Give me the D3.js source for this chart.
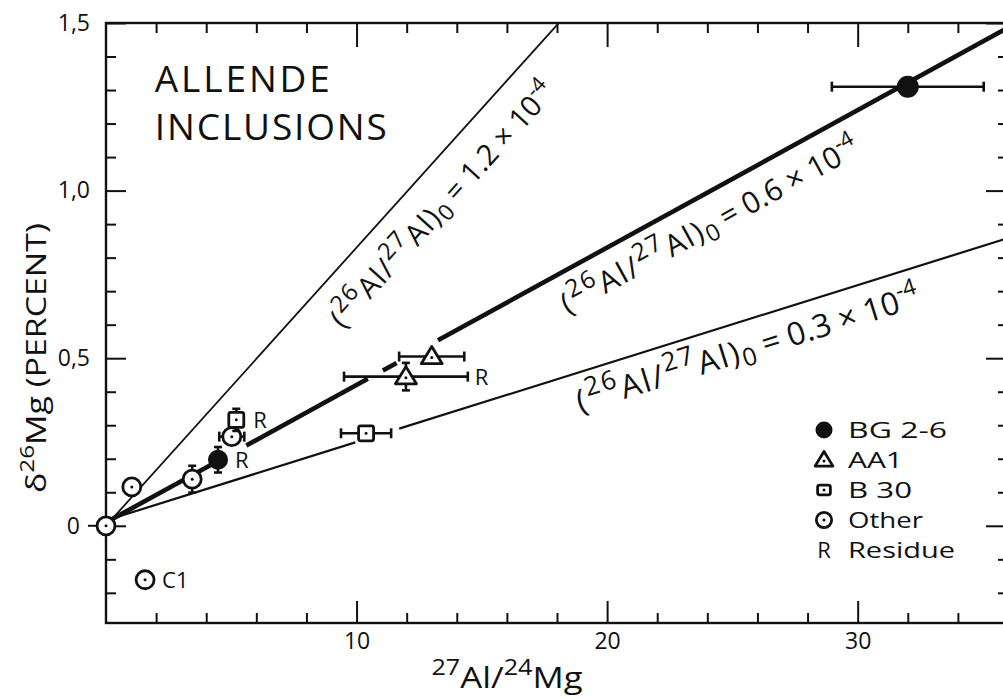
<!DOCTYPE html>
<html>
<head>
<meta charset="utf-8">
<title>Allende inclusions</title>
<script src="https://cdn.jsdelivr.net/npm/d3@7"></script>
<style>
  body { margin: 0; background: #fff; }
  svg text { font-family: 'Open Sans', 'DejaVu Sans', sans-serif; fill: #111; }
  .tick line { stroke: #111; stroke-width: 2; }
  .domain { display: none; }
</style>
</head>
<body>
<svg id="chart" width="1003" height="699"></svg>
<script>
// ---- data ----
const xMajor = [10, 20, 30];
const xTickLabels = ["10", "20", "30"];
const xMinor = [2, 4, 6, 8, 12, 14, 16, 18, 22, 24, 26, 28, 32, 34];
const yMajor = [0, 0.5, 1.0, 1.5];
const yTickLabels = ["0", "0,5", "1,0", "1,5"];
const yMinor = [-0.2, -0.1, 0.1, 0.2, 0.3, 0.4, 0.6, 0.7, 0.8, 0.9, 1.1, 1.2, 1.3, 1.4];

// BG 2-6 (filled), AA1 (triangle), B30 (square), Other (dotted circle)
const bgPoints    = [{x: 4.47, y: 0.197, dx: 0, dy: 0.038, residue: true},
                     {x: 32.0, y: 1.31, dx: 3.03, dy: 0}];
const aa1Points   = [{x: 13.0, y: 0.505, dx: 1.3, dy: 0},
                     {x: 11.97, y: 0.445, dx: 2.47, dy: 0.041, residue: true}];
const b30Points   = [{x: 10.38, y: 0.276, dx: 1.0, dy: 0},
                     {x: 5.2, y: 0.316, dx: 0, dy: 0.033, residue: true}];
const otherPoints = [{x: 0, y: 0, dx: 0, dy: 0},
                     {x: 1.03, y: 0.116, dx: 0, dy: 0},
                     {x: 3.44, y: 0.139, dx: 0, dy: 0.04},
                     {x: 5.02, y: 0.266, dx: 0.5, dy: 0},
                     {x: 1.56, y: -0.161, dx: 0, dy: 0, name: "C1"}];

// isochrons (26Al/27Al)0
const ratioLabels = ["1.2", "0.6", "0.3"];
const lineSlopes = [0.083, 0.041, 0.0234];
const lineIntercepts = [0, 0.01, 0.016];
const lineSegments = [
  [[0, 18.2]],
  [[0, 4.6], [5.6, 10.45], [11.05, 11.6], [13.25, 36]],
  [[0, 9.95], [11.7, 36]]
];

const legendNames = ["BG 2-6", "AA1", "B 30", "Other", "Residue"];
const legendKinds = ["bg", "aa1", "b30", "other", "res"];

// ---- layout ----
const lineWidths = [1.8, 4.6, 2.2];
const labelAt = [12.9, 24.3, 26.2];      // where the "=" sits along each line (x value)
const labelOffset = [45, 40, 39];        // baseline distance below the line, px
const labelSize = [29, 30, 32];
const labelSpacing = [1.5, 2, 2.2];
const legendWidths = [99, 55, 64, 75, 107];
const ink = "#111";

const svg = d3.select("#chart");
const x = d3.scaleLinear().domain([0, 36]).range([106, 1008]);
const y = d3.scaleLinear().domain([-0.29, 1.5]).range([623, 23]);
const [x0, x1] = x.range(), [y0, y1] = y.range();

svg.append("defs").append("clipPath").attr("id", "plot")
  .append("rect").attr("x", x0).attr("y", y1).attr("width", x1 - x0).attr("height", y0 - y1);

// frame
svg.append("rect").attr("x", x0).attr("y", y1).attr("width", x1 - x0).attr("height", y0 - y1)
  .attr("fill", "none").attr("stroke", ink).attr("stroke-width", 2.4);

// ticks on all four sides, pointing inward
function ticks(axis, tr) {
  return svg.append("g").attr("transform", tr).call(axis);
}
ticks(d3.axisBottom(x).tickValues(xMinor).tickSize(-10).tickFormat(""), `translate(0,${y0})`);
ticks(d3.axisTop(x).tickValues(xMinor).tickSize(-10).tickFormat(""), `translate(0,${y1})`);
ticks(d3.axisTop(x).tickValues(xMajor).tickSize(-24).tickFormat(""), `translate(0,${y1})`);
const xb = ticks(d3.axisBottom(x).tickValues(xMajor).tickSize(-22).tickPadding(10)
  .tickFormat((d, i) => xTickLabels[i]), `translate(0,${y0})`);
xb.selectAll("text").attr("font-size", 23).attr("fill", ink);

ticks(d3.axisLeft(y).tickValues(yMinor).tickSize(-10).tickFormat(""), `translate(${x0},0)`);
ticks(d3.axisRight(y).tickValues(yMinor).tickSize(-10).tickFormat(""), `translate(${x1},0)`);
ticks(d3.axisRight(y).tickValues(yMajor).tickSize(-22).tickFormat(""), `translate(${x1},0)`);
const yl = ticks(d3.axisLeft(y).tickValues(yMajor).tickSize(-20).tickPadding(16)
  .tickFormat((d, i) => yTickLabels[i]), `translate(${x0},0)`);
yl.selectAll("text").attr("font-size", 23).attr("fill", ink)
  .attr("x", d => d === 0 ? -26 : -16);
// short outside tick at zero
svg.append("line").attr("x1", x0 - 18).attr("x2", x0).attr("y1", y(0)).attr("y2", y(0))
  .attr("stroke", ink).attr("stroke-width", 2);

// axis titles
const xt = svg.append("text").attr("x", 507).attr("y", 688).attr("text-anchor", "middle")
  .attr("font-size", 29).attr("textLength", 151).attr("lengthAdjust", "spacingAndGlyphs");
xt.append("tspan").attr("font-size", 21).attr("dy", -13).text("27");
xt.append("tspan").attr("dy", 13).text("Al/");
xt.append("tspan").attr("font-size", 21).attr("dy", -13).text("24");
xt.append("tspan").attr("dy", 13).text("Mg");

const yt = svg.append("text").attr("transform", "translate(46,358) rotate(-90)")
  .attr("text-anchor", "middle").attr("font-size", 28)
  .attr("textLength", 270).attr("lengthAdjust", "spacingAndGlyphs");
yt.append("tspan").text("δ");
yt.append("tspan").attr("font-size", 20).attr("dy", -12).text("26");
yt.append("tspan").attr("dy", 12).text("Mg (PERCENT)");

// title
svg.append("text").attr("x", x(1.95)).attr("y", 92).attr("font-size", 37)
  .attr("textLength", 175).text("ALLENDE");
svg.append("text").attr("x", x(1.95)).attr("y", 140).attr("font-size", 37)
  .attr("textLength", 232).text("INCLUSIONS");

// isochron lines
const plot = svg.append("g").attr("clip-path", "url(#plot)");
lineSlopes.forEach((m, i) => {
  const b = lineIntercepts[i];
  lineSegments[i].forEach(([a, c]) => {
    plot.append("line")
      .attr("x1", x(a)).attr("y1", y(b + m * a))
      .attr("x2", x(c)).attr("y2", y(b + m * c))
      .attr("stroke", ink).attr("stroke-width", lineWidths[i]);
  });
});

// line labels, placed so the "=" sits at labelAt along each line
lineSlopes.forEach((m, i) => {
  const b = lineIntercepts[i];
  const ang = Math.atan2(y(b + m * 10) - y(b), x(10) - x(0)) * 180 / Math.PI;
  const xa = labelAt[i];
  const fs = labelSize[i], ss = fs * 0.82, up = fs * 0.42, ls = labelSpacing[i];
  const g = svg.append("g")
    .attr("transform", `translate(${x(xa)},${y(b + m * xa)}) rotate(${ang})`);
  const t = g.append("text").attr("font-size", fs).attr("y", labelOffset[i]);
  t.append("tspan").attr("letter-spacing", ls).text("(");
  t.append("tspan").attr("letter-spacing", ls).attr("font-size", ss).attr("dy", -up).text("26");
  t.append("tspan").attr("letter-spacing", ls).attr("dy", up).text("Al/");
  t.append("tspan").attr("letter-spacing", ls).attr("font-size", ss).attr("dy", -up).text("27");
  t.append("tspan").attr("letter-spacing", ls).attr("dy", up).text("Al)");
  t.append("tspan").attr("font-size", fs * 0.78).attr("dy", 6).text("0");
  t.append("tspan").attr("dy", -6).text(" = " + ratioLabels[i] + " × 10");
  t.append("tspan").attr("font-size", fs * 0.72).attr("dy", -up).text("-4");
  const s = t.text();
  const k = s.indexOf("=");
  const node = t.node();
  const pre = node.getSubStringLength(0, k);
  const eq = node.getSubStringLength(k, 1);
  t.attr("x", -pre - eq / 2);
});

// markers
function drawMarker(g, kind, cx, cy, s) {
  s = s || 1;
  if (kind === "bg") {
    g.append("circle").attr("cx", cx).attr("cy", cy).attr("r", 10 * s).attr("fill", ink);
  } else if (kind === "aa1") {
    const h = 10 * s;
    g.append("path")
      .attr("d", `M${cx},${cy - h}L${cx + h * 1.05},${cy + h * 0.72}L${cx - h * 1.05},${cy + h * 0.72}Z`)
      .attr("fill", "#fff").attr("stroke", ink).attr("stroke-width", 2.8).attr("stroke-linejoin", "round");
    g.append("circle").attr("cx", cx).attr("cy", cy + 1).attr("r", 1.5).attr("fill", ink);
  } else if (kind === "b30") {
    const h = 7.5 * s;
    g.append("rect").attr("x", cx - h).attr("y", cy - h * (s < 1 ? 0.75 : 1))
      .attr("width", 2 * h).attr("height", 2 * h * (s < 1 ? 0.75 : 1)).attr("rx", 2)
      .attr("fill", "#fff").attr("stroke", ink).attr("stroke-width", 2.8);
    g.append("circle").attr("cx", cx).attr("cy", cy).attr("r", 1.5).attr("fill", ink);
  } else if (kind === "other") {
    g.append("circle").attr("cx", cx).attr("cy", cy).attr("r", 9 * s)
      .attr("fill", "#fff").attr("stroke", ink).attr("stroke-width", 2.8);
    g.append("circle").attr("cx", cx).attr("cy", cy).attr("r", 1.5).attr("fill", ink);
  } else if (kind === "res") {
    g.append("text").attr("x", cx).attr("y", cy + 8).attr("text-anchor", "middle")
      .attr("font-size", 22).text("R");
  }
}

const pts = svg.append("g");
function drawSeries(data, kind) {
  data.forEach(d => {
    const g = pts.append("g");
    const cx = x(d.x), cy = y(d.y);
    if (d.dx) {
      g.append("line").attr("x1", x(d.x - d.dx)).attr("x2", x(d.x + d.dx)).attr("y1", cy).attr("y2", cy)
        .attr("stroke", ink).attr("stroke-width", 2.6);
      [d.x - d.dx, d.x + d.dx].forEach(v => g.append("line").attr("x1", x(v)).attr("x2", x(v))
        .attr("y1", cy - 5).attr("y2", cy + 5).attr("stroke", ink).attr("stroke-width", 2.6));
    }
    if (d.dy) {
      g.append("line").attr("x1", cx).attr("x2", cx).attr("y1", y(d.y - d.dy)).attr("y2", y(d.y + d.dy))
        .attr("stroke", ink).attr("stroke-width", 2.6);
      [d.y - d.dy, d.y + d.dy].forEach(v => g.append("line").attr("x1", cx - 4).attr("x2", cx + 4)
        .attr("y1", y(v)).attr("y2", y(v)).attr("stroke", ink).attr("stroke-width", 2.6));
    }
    drawMarker(g, kind, cx, cy, kind === "bg" && d.dx ? 1.1 : 1);
    if (d.residue) {
      const rx = Math.max(d.dx ? x(d.x + d.dx) : 0, cx + 10) + 7;
      g.append("text").attr("x", rx).attr("y", cy + 8).attr("font-size", 22).text("R");
    }
    if (d.name) {
      g.append("text").attr("x", cx + 17).attr("y", cy + 8).attr("font-size", 22).text(d.name);
    }
  });
}
drawSeries(otherPoints, "other");
drawSeries(b30Points, "b30");
drawSeries(bgPoints, "bg");
drawSeries(aa1Points, "aa1");

// legend
const leg = svg.append("g");
legendNames.forEach((name, i) => {
  const cy = 430 + i * 30;
  drawMarker(leg, legendKinds[i], 824, cy, legendKinds[i] === "res" ? 1 : 0.85);
  leg.append("text").attr("x", 848).attr("y", cy + 8).attr("font-size", 22)
    .attr("textLength", legendWidths[i]).attr("lengthAdjust", "spacingAndGlyphs").text(name);
});
</script>
</body>
</html>
